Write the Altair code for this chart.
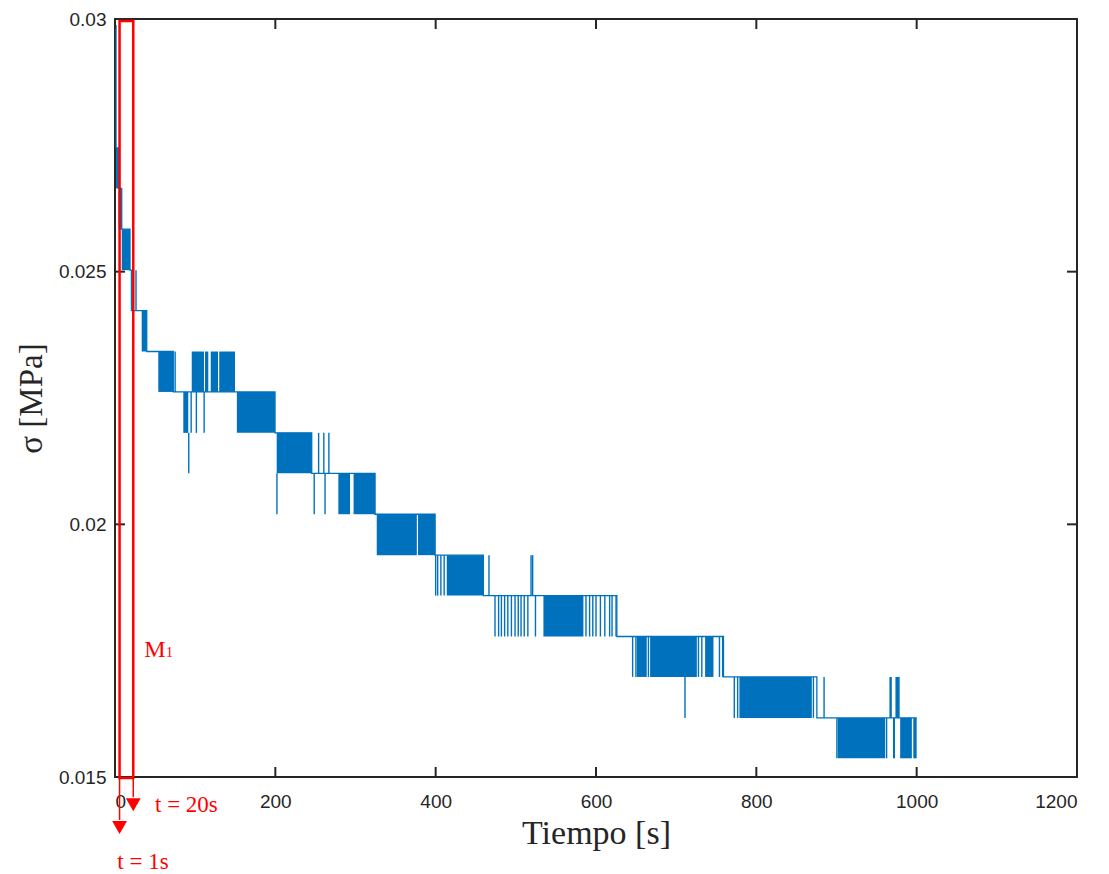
import altair as alt
import pandas as pd

W, H = 962, 758
BLUE = "#0072BD"
RED = "#FF0000"
INK = "#262626"

# quantised stress levels [MPa], index k = 0 (lowest) ... 18 (highest)
LEVELS = [0.01537, 0.01617, 0.01698, 0.01778, 0.01859, 0.01939, 0.02020, 0.02101,
          0.02181, 0.02262, 0.02342, 0.02423, 0.02503, 0.02584, 0.02665, 0.02745,
          0.02826, 0.02906, 0.02987]

# dwell level of the trace (step-after)
trace_t = [0, 1.3, 4.1, 8.4, 18.7, 20.5, 39.6, 72.7, 199.6, 245.4, 324.4, 399.3,
           459.5, 626.0, 759.0, 875.5, 1000.0]
trace_k = [18, 15, 14, 13, 12, 11, 10, 9, 8, 7, 6, 5, 4, 3, 2, 1, 1]

# dense toggling between LEVELS[k] and LEVELS[k+1]
block_t0 = [1.3, 4.5, 8.4, 33.3, 54.0, 85.2, 95.7, 112.3, 119.4, 130.0, 152.0, 201.7,
            278.6, 297.6, 326.5, 378.0, 413.8, 534.4, 650.9, 667.5, 736.1, 778.9,
            901.5, 970.5, 979.4, 995.8, 966.0, 973.5]
block_t1 = [4.1, 8.4, 18.7, 39.6, 72.7, 91.4, 111.0, 116.4, 128.5, 149.7, 199.6, 245.4,
            293.2, 324.4, 376.5, 399.3, 459.5, 584.3, 663.3, 725.8, 746.5, 869.2,
            960.7, 973.0, 994.0, 1000.0, 969.0, 978.8]
block_k = [14, 13, 12, 10, 9, 8, 9, 9, 9, 9, 8, 7,
           6, 6, 5, 5, 4, 3, 2, 2, 2, 1,
           0, 0, 0, 0, 1, 1]

# isolated jumps between LEVELS[k] and LEVELS[k+1]
spike_t = [26.2, 75.0, 92.0, 95.0, 101.5, 111.2, 202.0, 248.5, 254.0, 260.5, 262.0, 266.8,
           400.0, 402.5, 406.5, 410.6, 466.5, 519.0, 521.0,
           474.0, 478.5, 482.0, 486.0, 490.0, 494.5, 499.0, 503.0, 506.5, 510.5, 515.0, 524.5,
           587.5, 592.0, 596.0, 600.0, 605.5, 611.0, 617.0, 620.0, 625.0,
           645.7, 649.8, 665.4, 727.8, 732.0, 754.0, 758.0,
           711.0, 772.5, 776.7, 871.2, 884.5,
           900.5, 962.5]
spike_k = [11, 9, 7, 8, 8, 8, 6, 6, 7, 7, 6, 7,
           4, 4, 4, 4, 4, 4, 4,
           3, 3, 3, 3, 3, 3, 3, 3, 3, 3, 3, 3,
           3, 3, 3, 3, 3, 3, 3, 3, 3,
           2, 2, 2, 2, 2, 2, 2,
           1, 1, 1, 1, 1,
           0, 0]

x_ticks = [0, 200, 400, 600, 800, 1000, 1200]
y_ticks = [0.015, 0.02, 0.025, 0.03]

# annotation (window M1)
win_t = [5.7, 22.8]
win_s = [0.01498, 0.02996]
arrow_t = [5.7, 22.8]
arrow_end = [0.01415, 0.01460]
arrow_head = [0.01400, 0.01445]
labels = ["t = 1s", "t = 20s"]
label_t = [2.9, 49.9]
label_s = [0.01317, 0.01431]

trace = pd.DataFrame({"t": trace_t, "s": [LEVELS[k] for k in trace_k]})
blocks = pd.DataFrame({"t0": block_t0, "t1": block_t1,
                       "lo": [LEVELS[k] for k in block_k],
                       "hi": [LEVELS[k + 1] for k in block_k]})
spikes = pd.DataFrame({"t": spike_t,
                       "lo": [LEVELS[k] for k in spike_k],
                       "hi": [LEVELS[k + 1] for k in spike_k]})

xs = alt.Scale(domain=[0, 1200], nice=False, zero=False)
ys = alt.Scale(domain=[0.015, 0.03], nice=False, zero=False)

xaxis = alt.Axis(values=x_ticks, format="d", title="Tiempo [s]", grid=False, domain=False,
                 ticks=False, tickSize=0, labelPadding=15, labelFont="Liberation Sans",
                 labelFontSize=19, labelColor=INK, titleFont="Liberation Serif",
                 titleFontSize=34, titleFontWeight="normal", titleColor=INK,
                 titleY=66, titleBaseline="alphabetic")
yaxis = alt.Axis(values=y_ticks, format="~g", title="σ [MPa]", grid=False, domain=False,
                 ticks=False, tickSize=0, labelPadding=9, labelFont="Liberation Sans",
                 labelFontSize=19, labelColor=INK, titleFont="Liberation Serif",
                 titleFontSize=33, titleFontWeight="normal", titleColor=INK,
                 titleX=-74, titleY=H / 2, titleBaseline="alphabetic", titleAngle=270)


def X(field):
    return alt.X(field, scale=xs, axis=xaxis)


def Y(field):
    return alt.Y(field, scale=ys, axis=yaxis)


line = alt.Chart(trace).mark_line(interpolate="step-after", color=BLUE, strokeWidth=1.3).encode(
    x=X("t:Q"), y=Y("s:Q"),
)
rects = alt.Chart(blocks).mark_rect(color=BLUE).encode(
    x=X("t0:Q"), x2="t1", y=Y("lo:Q"), y2="hi",
)
rules = alt.Chart(spikes).mark_rule(color=BLUE, strokeWidth=1.4).encode(
    x=X("t:Q"), y=Y("lo:Q"), y2="hi",
)

xt = pd.DataFrame({"v": x_ticks})
yt = pd.DataFrame({"v": y_ticks})
tick_bottom = alt.Chart(xt).mark_rule(color=INK, strokeWidth=2).encode(
    x=X("v:Q"), y=alt.value(H), y2=alt.value(H - 10))
tick_top = alt.Chart(xt).mark_rule(color=INK, strokeWidth=2).encode(
    x=X("v:Q"), y=alt.value(0), y2=alt.value(10))
tick_left = alt.Chart(yt).mark_rule(color=INK, strokeWidth=2).encode(
    y=Y("v:Q"), x=alt.value(0), x2=alt.value(10))
tick_right = alt.Chart(yt).mark_rule(color=INK, strokeWidth=2).encode(
    y=Y("v:Q"), x=alt.value(W), x2=alt.value(W - 10))

win = pd.DataFrame({"t0": [win_t[0]], "t1": [win_t[1]], "s0": [win_s[0]], "s1": [win_s[1]]})
window = alt.Chart(win).mark_rect(fillOpacity=0, stroke=RED, strokeWidth=2.5, clip=False).encode(
    x=X("t0:Q"), x2="t1", y=Y("s0:Q"), y2="s1",
)
arr = pd.DataFrame({"t": arrow_t, "s0": [win_s[0]] * 2, "s1": arrow_end, "h": arrow_head})
arrow_lines = alt.Chart(arr).mark_rule(color=RED, strokeWidth=1.5, clip=False).encode(
    x=X("t:Q"), y=Y("s0:Q"), y2="s1",
)
arrow_heads = alt.Chart(arr).mark_point(shape="triangle-down", filled=True, color=RED,
                                        size=220, opacity=1, clip=False).encode(
    x=X("t:Q"), y=Y("h:Q"),
)
lab = pd.DataFrame({"t": label_t, "s": label_s, "txt": labels})
arrow_text = alt.Chart(lab).mark_text(align="left", baseline="alphabetic", color=RED,
                                      font="Liberation Serif", fontSize=23, clip=False).encode(
    x=X("t:Q"), y=Y("s:Q"), text="txt:N",
)
m_df = pd.DataFrame({"t": [36.6], "s": [0.017375], "txt": ["M"]})
m_text = alt.Chart(m_df).mark_text(align="left", baseline="alphabetic", color=RED,
                                   font="Liberation Serif", fontSize=24).encode(
    x=X("t:Q"), y=Y("s:Q"), text="txt:N",
)
sub_df = pd.DataFrame({"t": [63.6], "s": [0.017375], "txt": ["1"]})
sub_text = alt.Chart(sub_df).mark_text(align="left", baseline="alphabetic", color=RED,
                                       font="Liberation Serif", fontSize=14).encode(
    x=X("t:Q"), y=Y("s:Q"), text="txt:N",
)

chart = alt.layer(
    line, rects, rules, tick_bottom, tick_top, tick_left, tick_right,
    window, arrow_lines, arrow_heads, arrow_text, m_text, sub_text,
).properties(
    width=W, height=H,
    padding={"left": 107, "top": 11, "right": 24, "bottom": 97},
    autosize=alt.AutoSizeParams(type="none"),
    background="white",
).configure_view(
    stroke=INK, strokeWidth=2,
)

chart.save("out.html", embed_options={"renderer": "svg", "actions": False})
